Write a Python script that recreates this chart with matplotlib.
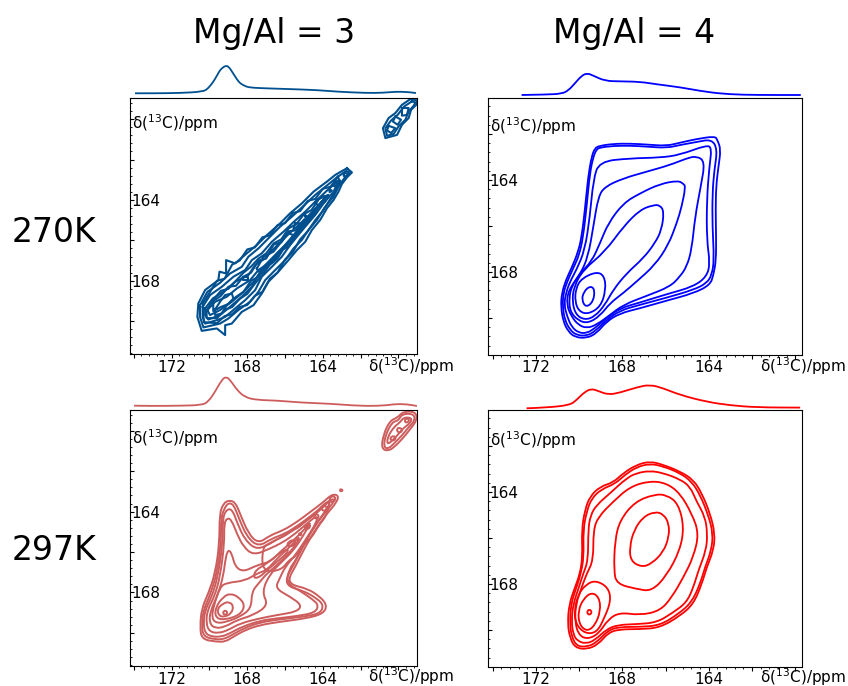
import matplotlib
matplotlib.use('Agg')
import matplotlib.pyplot as plt
from matplotlib.path import Path
from matplotlib.patches import PathPatch
from matplotlib.ticker import AutoMinorLocator

# contour outlines, (f2 ppm, f1 ppm)
tl_1 = [(162.72,162.43),(162.46,162.64),(162.72,162.88),(162.99,163.21),(163.17,163.59),(163.43,164.00),(163.78,164.41),(164.14,164.99),(164.58,165.49),(164.93,166.07),(165.37,166.48),(165.82,166.98),(166.35,167.55),(166.88,168.05),(167.23,168.63),(167.67,169.21),(168.29,169.54),(168.82,170.12),(169.17,170.20),(169.17,170.69),(169.61,170.36),(170.41,170.48),(170.64,169.79),(170.59,169.12),(170.23,168.46),(169.53,167.97),(169.47,167.55),(169.12,167.64),(169.12,166.98),(168.64,167.14),(168.02,166.64),(167.49,166.23),(166.96,165.74),(166.26,165.16),(165.73,164.66),(165.11,164.17),(164.49,163.59),(163.78,163.09),(163.34,162.76)]
tl_2 = [(170.50,169.21),(170.11,168.55),(169.44,168.10),(168.91,167.64),(168.29,167.31),(167.94,166.81),(167.41,166.40),(166.88,165.90),(166.26,165.32),(165.64,164.83),(165.06,164.33),(164.40,163.75),(163.75,163.26),(163.25,162.88),(162.76,162.56),(162.58,162.64),(162.87,162.93),(163.17,163.34),(163.43,163.83),(163.93,164.41),(164.31,164.99),(164.76,165.49),(165.11,165.98),(165.55,166.40),(165.99,166.98),(166.52,167.47),(167.05,167.97),(167.41,168.55),(167.85,169.04),(168.47,169.45),(169.00,169.87),(169.44,170.12),(170.32,170.31),(170.50,169.79)]
tl_3 = [(170.36,169.29),(169.97,168.71),(169.35,168.30),(168.73,167.80),(168.11,167.47),(167.76,166.98),(167.23,166.64),(166.70,166.07),(166.08,165.57),(165.52,165.07),(164.93,164.58),(164.31,164.00),(163.70,163.47),(163.17,163.04),(163.43,163.59),(163.96,164.17),(164.40,164.74),(164.93,165.32),(165.37,165.82),(165.73,166.23),(166.17,166.81),(166.70,167.31),(167.23,167.80),(167.58,168.46),(168.11,168.96),(168.64,169.37),(169.17,169.79),(169.61,169.95),(170.23,170.12),(170.36,169.79)]
tl_4 = [(170.23,169.37),(169.83,168.88),(169.26,168.55),(168.64,168.05),(167.94,167.72),(167.58,167.22),(167.05,166.89),(166.58,166.40),(165.96,165.82),(165.37,165.32),(164.81,164.83),(164.23,164.25),(163.70,163.75),(164.05,164.08),(164.58,164.69),(165.11,165.24),(165.55,165.74),(165.99,166.23),(166.43,166.73),(166.88,167.22),(167.41,167.72),(167.76,168.30),(168.29,168.79),(168.91,169.29),(169.44,169.70),(170.06,169.92),(170.23,169.70)]
tl_5 = [(170.11,169.45),(169.70,169.04),(169.08,168.79),(168.55,168.38),(167.85,167.97),(167.41,167.47),(166.88,167.14),(166.43,166.73),(165.82,166.15),(165.29,165.65),(164.67,164.99),(164.31,164.58),(164.67,164.83),(165.20,165.40),(165.73,165.98),(166.26,166.48),(166.70,166.98),(167.23,167.47),(167.67,168.05),(168.20,168.55),(168.82,169.04),(169.44,169.45),(169.97,169.70)]
tl_6 = [(169.70,169.42),(169.44,169.04),(169.17,168.71),(168.82,168.63),(168.73,168.88),(169.08,169.21),(169.35,169.62),(169.70,169.70)]
tl_7 = [(167.49,167.39),(167.14,166.81),(166.61,166.56),(166.26,166.15),(165.82,165.65),(165.55,165.74),(165.90,166.23),(166.35,166.56),(166.79,166.98),(167.14,167.31),(167.41,167.55)]
tl_8 = [(165.46,165.16),(165.06,165.16),(165.20,165.40),(165.55,165.40)]
tl_9 = [(164.97,164.74),(164.86,164.79),(164.92,164.86)]
tl_10 = [(164.31,164.00),(163.93,163.80),(163.87,164.08),(164.23,164.25),(164.44,164.17)]
tl_11 = [(163.66,163.47),(163.52,163.54),(163.64,163.62)]
tl_12 = [(163.34,163.09),(163.08,163.04),(163.17,163.31),(163.43,163.31)]
tl_13 = [(162.87,162.68),(162.64,162.68),(162.72,162.84),(162.90,162.81)]
tl_14 = [(168.20,167.80),(167.94,167.80),(167.94,167.97),(168.20,167.97)]
tl_15 = [(159.37,159.01),(159.01,159.07),(159.05,159.29),(159.33,159.54),(159.46,159.95),(159.81,160.28),(160.07,160.78),(160.69,160.94),(160.82,160.45),(160.52,159.95),(160.16,159.70),(159.81,159.29)]
tl_16 = [(159.28,159.12),(159.10,159.17),(159.19,159.34),(159.46,159.62),(159.63,160.03),(159.99,160.36),(160.25,160.73),(160.60,160.83),(160.69,160.45),(160.39,160.07),(160.04,159.79),(159.69,159.37)]
tl_17 = [(159.81,159.45),(159.46,159.45),(159.55,159.79),(159.81,159.83)]
tl_18 = [(160.16,159.87),(159.86,160.03),(160.04,160.28),(160.29,160.12)]
tl_19 = [(160.52,160.33),(160.16,160.45),(160.39,160.69),(160.60,160.56)]
# scalloped lines along the ridge
tl_20 = [(163.2,162.85),(163.6,163.35),(164.0,163.45),(164.4,163.95),(164.8,164.05),(165.2,164.55),(165.6,164.65),(166.0,165.15),(166.4,165.25),(166.8,165.75),(167.2,165.85),(167.6,166.35),(168.0,166.45),(168.4,167.0),(168.8,167.2),(169.2,167.9),(169.6,168.0),(170.0,168.6),(170.35,169.1),(170.3,170.05),(169.6,170.1),(169.2,169.75),(168.8,169.65),(168.4,169.3),(168.0,169.2),(167.6,168.75),(167.2,168.55),(166.8,167.9),(166.4,167.6),(166.0,166.95),(165.6,166.6),(165.2,165.95),(164.8,165.55),(164.4,165.0),(164.0,164.55),(163.6,163.95),(163.3,163.5),(163.1,163.1)]
tl_21 = [(163.8,163.8),(164.2,163.95),(164.6,164.5),(165.0,164.7),(165.4,165.2),(165.8,165.4),(166.2,165.95),(166.6,166.15),(167.0,166.65),(167.4,166.9),(167.8,167.3),(168.2,167.6),(168.6,168.0),(169.0,168.4),(169.4,168.5),(169.8,168.95),(170.15,169.45),(170.15,169.85),(169.6,169.85),(169.2,169.45),(168.8,169.3),(168.4,168.9),(168.0,168.65),(167.6,168.15),(167.2,167.7),(166.8,167.2),(166.4,166.9),(166.0,166.3),(165.6,165.95),(165.2,165.4),(164.8,165.05),(164.4,164.55),(164.1,164.25)]
tl_22 = [(165.0,165.0),(165.4,165.5),(165.8,165.55),(166.2,166.1),(166.6,166.2),(167.0,166.9),(167.4,167.0),(167.8,167.6),(168.2,167.8),(168.6,168.25),(169.0,168.3),(169.4,168.75),(169.8,169.0),(169.8,169.5),(169.4,169.3),(169.0,169.15),(168.6,168.8),(168.2,168.55),(167.8,168.0),(167.4,167.8),(167.0,167.3),(166.6,167.05),(166.2,166.5),(165.8,166.3),(165.4,165.75)]
tl_contours = [tl_1,tl_2,tl_3,tl_4,tl_5,tl_6,tl_7,tl_8,tl_9,tl_10,tl_11,tl_12,tl_13,tl_14,tl_15,tl_16,tl_17,tl_18,tl_19,tl_20,tl_21,tl_22]

tr_1 = [(169.07,162.52),(168.42,162.43),(167.64,162.42),(166.87,162.46),(165.95,162.52),(165.33,162.38),(164.56,162.22),(163.71,162.10),(163.60,162.26),(163.44,162.67),(163.55,163.42),(163.66,164.29),(163.68,165.30),(163.66,166.46),(163.66,167.48),(163.78,168.13),(163.94,168.57),(164.71,168.93),(165.95,169.25),(167.18,169.58),(168.11,169.80),(168.73,170.16),(169.19,170.67),(169.65,170.88),(170.19,170.84),(170.50,170.59),(170.73,170.16),(170.84,169.51),(170.80,168.93),(170.61,168.35),(170.35,167.84),(170.04,167.12),(169.88,166.46),(169.73,165.30),(169.58,163.86),(169.42,162.99),(169.27,162.62)]
tr_2 = [(169.03,162.59),(168.42,162.52),(167.64,162.51),(166.87,162.55),(165.95,162.61),(165.33,162.48),(164.56,162.35),(163.86,162.23),(163.60,162.67),(163.74,163.57),(163.83,164.58),(163.83,166.03),(163.75,167.48),(163.86,168.13),(164.09,168.49),(164.71,168.78),(165.95,169.12),(167.18,169.43),(168.11,169.68),(168.73,170.09),(169.27,170.59),(169.65,170.78),(170.12,170.75),(170.42,170.52),(170.66,170.09),(170.76,169.51),(170.73,168.93),(170.55,168.42),(170.27,167.84),(169.99,167.26),(169.81,166.46),(169.65,165.16),(169.50,163.71),(169.34,162.99),(169.19,162.67)]
tr_3 = [(169.07,163.20),(167.64,163.06),(166.25,163.03),(165.33,162.91),(164.09,162.48),(163.86,162.62),(163.97,163.42),(164.09,164.87),(164.09,166.61),(163.94,167.62),(164.09,168.20),(164.71,168.64),(165.95,168.97),(167.18,169.33),(168.11,169.58),(168.73,170.01),(169.27,170.45),(169.65,170.67),(170.04,170.64),(170.35,170.38),(170.55,169.94),(170.69,169.43),(170.61,168.93),(170.42,168.42),(170.12,167.91),(169.73,167.04),(169.50,165.59),(169.34,164.00)]
tr_4 = [(168.80,164.29),(167.95,163.93),(166.87,163.64),(165.79,163.35),(165.02,163.06),(164.56,162.96),(164.17,163.20),(164.37,164.29),(164.63,165.59),(164.79,167.04),(165.02,167.77),(165.33,168.20),(165.79,168.64),(166.87,169.04),(167.95,169.43),(168.57,169.87),(169.19,170.30),(169.65,170.45),(170.04,170.30),(170.35,169.94),(170.58,169.43),(170.49,168.78),(169.96,168.13),(169.58,167.33),(169.34,166.03),(169.11,164.72)]
tr_5 = [(165.41,164.03),(165.17,164.17),(165.07,164.29),(165.25,165.16),(165.48,165.88),(165.87,166.83),(166.49,167.70),(167.34,168.42),(167.97,168.93),(168.57,169.36),(169.03,169.91),(169.58,170.23),(170.04,170.12),(170.42,169.72),(170.46,169.14),(170.35,168.64),(169.96,168.06),(169.42,167.55),(169.03,166.75),(168.65,165.88),(167.95,165.01),(167.18,164.58),(166.25,164.17)]
tr_6 = [(166.56,165.09),(166.25,165.10),(166.07,165.38),(166.18,166.17),(166.49,166.75),(167.03,167.41),(167.80,168.06),(168.42,168.78),(168.80,169.43),(169.27,169.94),(169.73,170.09),(170.15,169.87),(170.32,169.29),(170.24,168.64),(169.81,167.91),(168.80,167.12),(167.95,166.03),(167.18,165.30)]
tr_7 = [(169.19,167.99),(168.83,168.17),(168.76,168.78),(169.00,169.51),(169.58,169.84),(170.00,169.72),(170.19,169.29),(170.15,168.71),(169.88,168.28)]
tr_8 = [(169.50,168.61),(169.27,168.75),(169.34,169.29),(169.68,169.55),(169.88,169.22),(169.78,168.86)]
tr_contours = [tr_1,tr_2,tr_3,tr_4,tr_5,tr_6,tr_7,tr_8]

bl_1 = [(169.00,163.44),(168.64,163.52),(168.38,164.10),(167.94,165.09),(167.41,165.58),(166.79,165.17),(166.08,164.92),(165.37,164.51),(164.67,164.02),(163.96,163.52),(163.52,163.14),(163.17,163.19),(163.25,163.52),(163.78,164.10),(164.31,164.76),(164.93,165.74),(165.46,166.73),(165.82,167.31),(165.64,167.64),(164.84,167.80),(164.14,168.21),(163.78,168.63),(163.96,169.04),(164.84,169.28),(166.26,169.45),(167.32,169.61),(168.11,169.86),(168.73,170.19),(169.17,170.44),(169.61,170.44),(170.41,170.32),(170.50,169.70),(170.41,168.79),(170.06,168.05),(169.70,167.06),(169.47,165.58),(169.47,164.10),(169.26,163.60)]
bl_2 = [(169.00,163.57),(168.73,163.64),(168.47,164.26),(168.02,165.25),(167.41,165.74),(166.70,165.33),(165.99,165.09),(165.29,164.67),(164.58,164.18),(163.96,163.69),(163.52,163.36),(163.34,163.44),(163.87,164.02),(164.40,164.67),(165.02,165.66),(165.55,166.65),(165.96,167.31),(165.82,167.72),(165.02,167.92),(164.31,168.30),(163.96,168.63),(164.14,169.04),(165.02,169.20),(166.26,169.33),(167.32,169.48),(168.20,169.78),(168.82,170.11),(169.26,170.32),(169.70,170.32),(170.32,170.19),(170.41,169.61),(170.32,168.87),(169.97,168.13),(169.61,167.06),(169.39,165.58),(169.39,164.26),(169.17,163.77)]
bl_3 = [(169.05,163.85),(168.77,163.93),(168.52,164.59),(168.11,165.42),(167.46,165.91),(166.70,165.50),(165.99,165.17),(165.29,164.76),(164.58,164.26),(163.96,163.77),(163.61,163.41),(163.70,163.77),(164.23,164.43),(164.84,165.33),(165.37,166.32),(165.82,166.90),(165.90,167.56),(165.20,167.92),(164.49,168.38),(164.23,168.63),(164.40,169.00),(165.37,169.17),(166.43,169.28),(167.32,169.40),(168.29,169.70),(168.91,170.02),(169.35,170.19),(169.88,170.19),(170.23,170.02),(170.32,169.53),(170.23,168.87),(169.88,168.21),(169.56,167.23),(169.30,165.58),(169.30,164.26)]
bl_4 = [(169.05,164.30),(168.82,164.43),(168.55,165.09),(168.20,165.74),(167.67,166.16),(166.79,165.83),(166.08,165.50),(165.46,165.09),(164.84,164.59),(164.31,164.18),(164.31,164.51),(164.93,165.42),(165.46,166.16),(165.99,166.73),(166.29,167.31),(166.52,167.80),(165.73,168.21),(165.11,168.63),(165.37,168.95),(166.43,169.12),(167.32,169.28),(168.38,169.53),(169.00,169.86),(169.53,170.02),(170.00,169.94),(170.18,169.53),(170.11,168.87),(169.74,168.21),(169.44,167.23),(169.21,165.58),(169.23,164.59)]
bl_5 = [(169.00,165.88),(168.82,166.07),(168.64,166.73),(168.20,166.98),(167.49,166.65),(166.79,166.49),(166.26,165.99),(165.55,165.42),(164.93,164.84),(164.58,164.43),(165.02,165.17),(165.55,165.91),(166.08,166.40),(166.79,167.06),(167.23,167.97),(166.88,168.63),(167.67,169.12),(168.55,169.37),(169.17,169.70),(169.70,169.78),(170.00,169.53),(169.97,168.95),(169.53,168.05),(169.26,167.14),(169.14,166.24)]
bl_6 = [(169.44,167.72),(169.08,167.52),(168.11,167.42),(167.49,167.06),(166.96,166.90),(166.43,166.32),(165.73,165.74),(165.20,165.17),(165.37,165.58),(165.90,166.16),(166.43,166.65),(166.96,167.06),(167.41,167.56),(167.76,167.97),(167.79,168.79),(168.38,169.20),(169.08,169.45),(169.61,169.53),(169.88,169.28),(169.79,168.71)]
bl_7 = [(168.91,168.05),(168.47,168.21),(168.11,168.63),(168.38,169.12),(169.26,169.37),(169.70,169.23),(169.67,168.71),(169.26,168.21)]
bl_8 = [(169.00,168.46),(168.73,168.63),(168.82,169.04),(169.26,169.23),(169.53,169.12),(169.58,168.79),(169.26,168.54)]
bl_9 = [(169.17,168.87),(169.03,169.00),(169.17,169.14),(169.31,169.00)]
bl_10 = [(167.58,166.90),(166.96,166.57),(166.43,166.16),(165.90,165.83),(165.82,165.99),(166.43,166.49),(166.96,166.90),(167.32,167.23),(167.67,167.31)]
bl_11 = [(165.82,165.50),(165.55,165.38),(165.43,165.58),(165.69,165.74),(165.90,165.66)]
bl_12 = [(164.88,164.63),(164.63,164.63),(164.76,164.89),(164.99,164.84)]
bl_13 = [(165.20,165.05),(165.11,165.12),(165.20,165.19),(165.29,165.12)]
bl_14 = [(164.35,164.10),(164.19,164.21),(164.31,164.38),(164.49,164.26)]
bl_15 = [(163.93,163.69),(163.75,163.80),(163.93,164.00),(164.10,163.85)]
bl_16 = [(163.47,163.19),(163.29,163.36),(163.50,163.57),(163.70,163.41)]
bl_17 = [(163.08,162.88),(162.94,162.93),(163.01,163.00),(163.10,162.97)]
bl_18 = [(159.81,159.16),(159.19,159.16),(159.12,159.49),(159.46,159.82),(159.81,160.23),(160.16,160.56),(160.52,160.89),(160.78,160.81),(160.69,160.23),(160.34,159.57),(159.99,159.49)]
bl_19 = [(159.72,159.33),(159.28,159.36),(159.37,159.62),(159.72,159.85),(159.99,160.15),(160.34,160.51),(160.60,160.67),(160.57,160.31),(160.25,159.82),(159.90,159.57)]
bl_20 = [(159.99,159.82),(159.76,159.95),(159.93,160.12),(160.11,159.98)]
bl_21 = [(160.25,160.23),(160.11,160.40),(160.34,160.51),(160.46,160.36)]
bl_22 = [(159.54,159.36),(159.40,159.49),(159.58,159.62),(159.69,159.49)]
bl_23 = [(163.6,163.45),(164.0,163.65),(164.4,164.15),(164.8,164.3),(165.2,164.75),(165.6,164.9),(166.0,165.2),(166.4,165.35),(166.8,165.6),(167.2,165.75),(167.2,167.0),(166.2,166.9),(165.8,166.4),(165.4,166.2),(165.0,165.6),(164.6,165.3),(164.2,164.65),(163.8,164.2)]
bl_24 = [(159.75,159.05),(159.1,159.05),(159.0,159.45),(159.4,159.95),(159.75,160.35),(160.1,160.7),(160.5,161.0),(160.9,160.9),(160.8,160.2),(160.45,159.5),(160.05,159.35)]
bl_contours = [bl_1,bl_2,bl_3,bl_4,bl_5,bl_6,bl_7,bl_8,bl_9,bl_10,bl_11,bl_12,bl_13,bl_14,bl_15,bl_16,bl_17,bl_18,bl_19,bl_20,bl_21,bl_22,bl_23,bl_24]

br_1 = [(166.72,162.67),(166.10,162.82),(165.33,163.11),(164.71,163.47),(164.32,164.06),(163.94,164.93),(163.71,165.81),(163.78,166.54),(164.09,167.27),(164.32,168.00),(164.71,168.88),(165.33,169.39),(166.25,169.90),(167.18,169.97),(168.11,169.97),(168.65,170.12),(169.11,170.63),(169.65,170.85),(170.19,170.77),(170.42,170.34),(170.53,169.75),(170.46,168.88),(170.19,168.15),(169.96,167.56),(169.84,166.83),(169.88,165.66),(169.73,164.79),(169.50,164.20),(169.03,163.77),(168.42,163.59),(167.95,163.18),(167.34,162.82)]
br_2 = [(166.72,162.77),(166.10,162.89),(165.33,163.18),(164.79,163.55),(164.40,164.13),(164.02,165.01),(163.80,165.81),(163.88,166.54),(164.17,167.27),(164.40,168.00),(164.79,168.80),(165.41,169.31),(166.25,169.80),(167.18,169.87),(168.11,169.87),(168.65,170.01),(169.19,170.55),(169.65,170.74),(170.12,170.70),(170.35,170.26),(170.42,169.75),(170.38,168.88),(170.12,168.15),(169.92,167.56),(169.78,166.83),(169.81,165.66),(169.65,164.86),(169.42,164.28),(168.96,163.88),(168.34,163.65),(167.88,163.26),(167.34,162.92)]
br_3 = [(166.72,163.08),(166.10,163.18),(165.33,163.45),(164.86,163.77),(164.56,164.42),(164.17,165.08),(164.06,165.81),(164.12,166.54),(164.48,167.42),(164.71,168.15),(165.02,168.80),(165.64,169.24),(166.41,169.68),(167.34,169.75),(168.19,169.78),(168.73,169.97),(169.27,170.45),(169.68,170.60),(170.08,170.48),(170.27,170.19),(170.35,169.61),(170.27,168.88),(170.01,168.15),(169.81,167.56),(169.58,166.98),(169.58,165.66),(169.47,165.01),(169.19,164.57),(168.57,164.06),(167.80,163.40),(167.34,163.18)]
br_4 = [(166.72,163.52),(165.95,163.62),(165.33,164.06),(164.79,164.93),(164.45,165.81),(164.71,166.83),(165.17,167.71),(165.71,168.58),(166.25,169.17),(167.18,169.36),(168.11,169.24),(168.65,169.53),(169.11,170.19),(169.65,170.41),(170.04,170.19),(170.19,169.61),(170.15,168.88),(169.88,168.15),(169.65,167.56),(169.34,166.98),(169.34,165.66),(169.11,165.08),(168.42,164.42),(167.64,163.77)]
br_5 = [(166.49,164.10),(165.95,164.13),(165.41,164.50),(165.14,165.52),(165.33,166.54),(165.95,167.64),(166.64,168.32),(167.34,168.22),(168.26,168.00),(168.39,167.42),(168.34,166.10),(168.11,165.23),(167.41,164.42)]
br_6 = [(166.49,164.86),(166.10,164.96),(165.84,165.37),(165.84,165.96),(166.10,166.61),(166.64,167.12),(167.10,167.27),(167.61,167.01),(167.66,166.39),(167.46,165.66),(167.03,165.08)]
br_7 = [(169.22,167.85),(168.65,168.15),(168.52,168.73),(168.85,169.53),(169.19,170.12),(169.73,170.16),(170.15,169.75),(170.22,169.17),(170.04,168.44),(169.65,168.00)]
br_8 = [(169.42,168.36),(169.07,168.58),(169.00,169.17),(169.27,169.82),(169.65,170.07),(170.00,169.75),(170.04,169.17),(169.81,168.66)]
br_9 = [(169.53,169.09),(169.39,169.23),(169.53,169.37),(169.65,169.23)]
br_contours = [br_1,br_2,br_3,br_4,br_5,br_6,br_7,br_8,br_9]

# 1D projections above each panel, scaled to the main peak
tl_proj = [(173.94,0),(172.97,0),(171.56,.01),(170.32,.06),(170.06,.19),(169.79,.43),(169.6,.66),(169.44,.86),(169.3,.95),(169.17,1.01),(169.00,1.01),(168.73,.72),(168.55,.52),(168.38,.37),(168.15,.28),(167.94,.22),(167.32,.19),(165.90,.16),(164.31,.12),(163.25,.06),(161.66,.01),(160.78,.02),(160.16,.06),(159.54,.05),(159.07,.01)]
tr_proj = [(172.66,0),(171.51,.02),(170.81,.06),(170.50,.21),(170.19,.56),(169.88,.92),(169.62,1.04),(169.34,.92),(168.80,.67),(168.11,.65),(167.18,.63),(166.41,.51),(165.33,.37),(164.09,.14),(163.01,.03),(161.78,0),(159.74,0)]
bl_proj = [(173.99,.01),(172.97,0),(171.56,.01),(170.41,.03),(170.06,.15),(169.70,.50),(169.35,.91),(169.12,1.03),(168.87,.88),(168.55,.56),(168.11,.30),(167.49,.21),(166.43,.19),(165.20,.12),(163.61,.08),(162.02,0),(160.78,.01),(160.16,.07),(159.54,.06),(159.02,0)]
br_proj = [(172.43,0),(171.51,.03),(170.42,.14),(170.12,.36),(169.73,.72),(169.42,.85),(169.11,.75),(168.65,.59),(168.11,.68),(167.34,.91),(166.72,1.03),(166.10,.87),(165.33,.58),(164.09,.28),(163.01,.13),(161.78,.04),(159.77,.03)]

xticks = [174, 172, 170, 168, 166, 164, 162, 160]
xticklabels = ['', '172', '', '168', '', '164', '', '']
yticks = [160, 162, 164, 166, 168, 170]
yticklabels = ['', '', '164', '', '168', '']
label = r'δ($^{13}$C)/ppm'

W, H = 848, 686
fig = plt.figure(figsize=(W/100, H/100), dpi=100)

def box(left, top, right, bottom):
    return [left/W, 1-bottom/H, (right-left)/W, (bottom-top)/H]

# read points as control points of a quadratic curve, keeps the outlines round
def round_path(pts, closed):
    mid = lambda a, b: ((a[0]+b[0])/2, (a[1]+b[1])/2)
    if closed:
        verts = [mid(pts[-1], pts[0])]
        for i, p in enumerate(pts):
            verts += [p, mid(p, pts[(i+1) % len(pts)])]
    else:
        verts = [pts[0]]
        for i, p in enumerate(pts[1:-1], 1):
            verts += [p, mid(p, pts[i+1])]
        verts.append(pts[-1])
    codes = [Path.MOVETO] + [Path.CURVE3]*(2*(len(pts) if closed else len(pts)-2))
    if not closed:
        codes.append(Path.LINETO)
    return Path(verts, codes)

def panel(rect, xlim, ylim, contours, color, lw, smooth, proj, proj_rect, proj_ylim, ylabel_y, xlabel_x, xlabel_y):
    ax = fig.add_axes(box(*rect))
    for c in contours:
        if smooth:
            ax.add_patch(PathPatch(round_path(c, True), fc='none', ec=color, lw=lw))
        else:
            xs, ys = zip(*(c + c[:1]))
            ax.plot(xs, ys, color=color, lw=lw)
    # ticks first, set_yticks would widen the limits otherwise
    ax.set_xticks(xticks, xticklabels)
    ax.set_yticks(yticks, yticklabels, ha='left')
    ax.set_xlim(xlim)
    ax.set_ylim(ylim)
    ax.xaxis.set_minor_locator(AutoMinorLocator(5))
    ax.yaxis.set_minor_locator(AutoMinorLocator(5))
    ax.tick_params(axis='x', which='major', length=3, labelsize=11, pad=1)
    ax.tick_params(axis='x', which='minor', length=1.5)
    ax.tick_params(axis='y', which='major', direction='in', length=3, labelsize=11, pad=-1)
    ax.tick_params(axis='y', which='minor', direction='in', length=1.5)
    ax.text(0.006, ylabel_y, label, transform=ax.transAxes, fontsize=11, va='center', ha='left')
    ax.text(xlabel_x, xlabel_y, label, transform=ax.transAxes, fontsize=11, va='center', ha='left')

    top = fig.add_axes(box(*proj_rect))
    top.add_patch(PathPatch(round_path(proj, False), fc='none', ec=color, lw=1.3))
    top.set_xlim(xlim)
    top.set_ylim(proj_ylim)
    top.axis('off')
    top.patch.set_alpha(0)

panel((130.3, 98.3, 417.3, 354.3), (174.19, 159.0), (171.64, 158.97), tl_contours, '#00508f', 1.5, False,
      tl_proj, (130.3, 60, 417.3, 98), (-0.174, 1.233), 0.902, 0.828, -0.046)
panel((488.3, 98.3, 802.3, 354.7), (174.2, 159.67), (171.6, 160.45), tr_contours, 'blue', 1.3, True,
      tr_proj, (488.3, 60, 802.3, 98), (-0.143, 1.667), 0.892, 0.864, -0.046)
panel((130.3, 410, 417.3, 666), (174.19, 159.0), (171.64, 158.97), bl_contours, 'indianred', 1.4, True,
      bl_proj, (130.3, 372, 417.3, 410), (-0.14, 1.186), 0.890, 0.828, -0.04)
panel((488.3, 410.3, 802.3, 666.7), (174.2, 159.67), (171.6, 160.45), br_contours, 'red', 1.3, True,
      br_proj, (488.3, 372, 802.3, 410), (-0.074, 1.578), 0.883, 0.864, -0.04)

fig.text(274/W, 1-33/H, 'Mg/Al = 3', fontsize=23.8, ha='center', va='center')
fig.text(634/W, 1-33/H, 'Mg/Al = 4', fontsize=23.8, ha='center', va='center')
fig.text(12/W, 1-233/H, '270K', fontsize=23.8, ha='left', va='center')
fig.text(12/W, 1-550/H, '297K', fontsize=23.8, ha='left', va='center')

fig.savefig('out.png', dpi=100)
